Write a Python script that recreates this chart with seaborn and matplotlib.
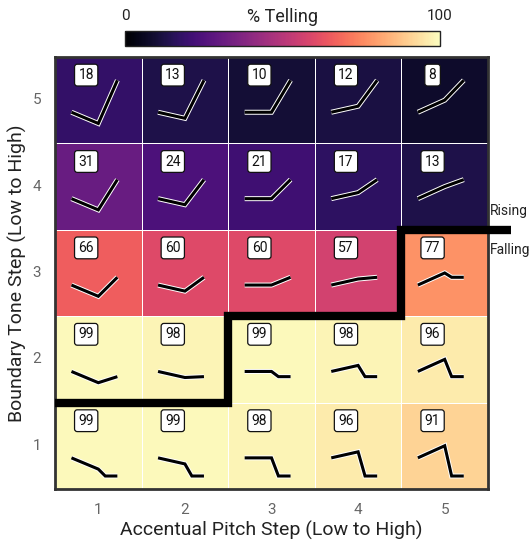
import numpy as np
import pandas as pd
import matplotlib
matplotlib.use("Agg")
import matplotlib.pyplot as plt
import matplotlib.patheffects as pe
import seaborn as sns

sns.set_theme(style="white")
plt.rcParams["font.family"] = ["Roboto", "DejaVu Sans"]

# Percentage of "telling" responses, rows = boundary tone step (5 at top)
accent_steps = [1, 2, 3, 4, 5]
boundary_steps = [5, 4, 3, 2, 1]
pct_row5 = [18, 13, 10, 12, 8]
pct_row4 = [31, 24, 21, 17, 13]
pct_row3 = [66, 60, 60, 57, 77]
pct_row2 = [99, 98, 99, 98, 96]
pct_row1 = [99, 99, 98, 96, 91]

# Schematic pitch levels of each stimulus step (relative to contour onset)
accent_pitch = [-0.13, -0.07, 0.0, 0.07, 0.14]
boundary_pitch = [-0.21, -0.06, 0.09, 0.22, 0.37]
# Highest boundary step that is heard as a falling contour, per accent step
falling_top = [1, 1, 2, 2, 3]

df = pd.DataFrame([pct_row5, pct_row4, pct_row3, pct_row2, pct_row1],
                  index=boundary_steps, columns=accent_steps)

fig = plt.figure(figsize=(5.32, 5.45), dpi=100)
ax = fig.add_axes([0.1034, 0.1028, 0.8139, 0.7927])
cax = fig.add_axes([0.235, 0.9156, 0.592, 0.0275])

sns.heatmap(df, ax=ax, cmap="magma", vmin=0, vmax=100, linewidths=0.6,
            linecolor="white", cbar_ax=cax,
            cbar_kws={"orientation": "horizontal"})

# colourbar styling
cb = ax.collections[0].colorbar
cb.set_ticks([0, 100])
cb.ax.xaxis.set_ticks_position("top")
cb.ax.tick_params(length=0, labelsize=11, colors="#222222", pad=6)
cb.outline.set_visible(True)
cb.outline.set_edgecolor("#222222")
cb.outline.set_linewidth(1)
cax.text(0.5, 1.62, "% Telling", transform=cax.transAxes, ha="center",
         va="baseline", fontsize=13, color="#222222")

# axes frame and labels
for s in ax.spines.values():
    s.set_visible(True)
    s.set_edgecolor("#333333")
    s.set_linewidth(2)
ax.tick_params(length=0, labelsize=11, colors="#666666", pad=10)
ax.set_yticklabels(boundary_steps, rotation=0)
ax.set_xticklabels(accent_steps, rotation=0)
ax.set_xlabel("Accentual Pitch Step (Low to High)", fontsize=14,
              color="#222222", labelpad=3)
ax.set_ylabel("Boundary Tone Step (Low to High)", fontsize=14,
              color="#222222", labelpad=4)

stroke = [pe.withStroke(linewidth=3.6, foreground="white")]
onset = -0.14
for r, b in enumerate(boundary_steps):
    for c, a in enumerate(accent_steps):
        cx, cy = c + 0.5, r + 0.5
        val = df.loc[b, a]
        ax.text(cx - 0.14, cy - 0.29, f"{val}", ha="center", va="center",
                fontsize=10, color="#111111",
                bbox=dict(boxstyle="round,pad=0.28,rounding_size=0.2",
                          fc="white", ec="#111111", lw=0.9))
        acc = onset + accent_pitch[a - 1]
        bnd = onset + boundary_pitch[b - 1]
        if b <= falling_top[a - 1]:
            xs = [cx - 0.31, cx, cx + 0.08, cx + 0.22]
            us = [onset, acc, bnd, bnd]
        else:
            xs = [cx - 0.31, cx, cx + 0.22]
            us = [onset, acc, bnd]
        ys = [cy - u for u in us]
        ax.plot(xs, ys, color="black", lw=2.2, solid_joinstyle="miter",
                solid_capstyle="butt", path_effects=stroke, zorder=5)

# category boundary between falling (below) and rising (above) percepts
sx, sy = [0], [5 - falling_top[0]]
for i, ft in enumerate(falling_top):
    y = 5 - ft
    if y != sy[-1]:
        sx += [i, i]
        sy += [sy[-1], y]
sx.append(5.27)
sy.append(sy[-1])
ax.plot(sx, sy, color="black", lw=6, solid_joinstyle="miter",
        solid_capstyle="butt", clip_on=False, zorder=6)

ax.text(5.02, sy[-1] - 0.22, "Rising", fontsize=10, color="#222222",
        ha="left", va="center", transform=ax.transData)
ax.text(5.02, sy[-1] + 0.24, "Falling", fontsize=10, color="#222222",
        ha="left", va="center", transform=ax.transData)

fig.savefig("out.png", dpi=100)
